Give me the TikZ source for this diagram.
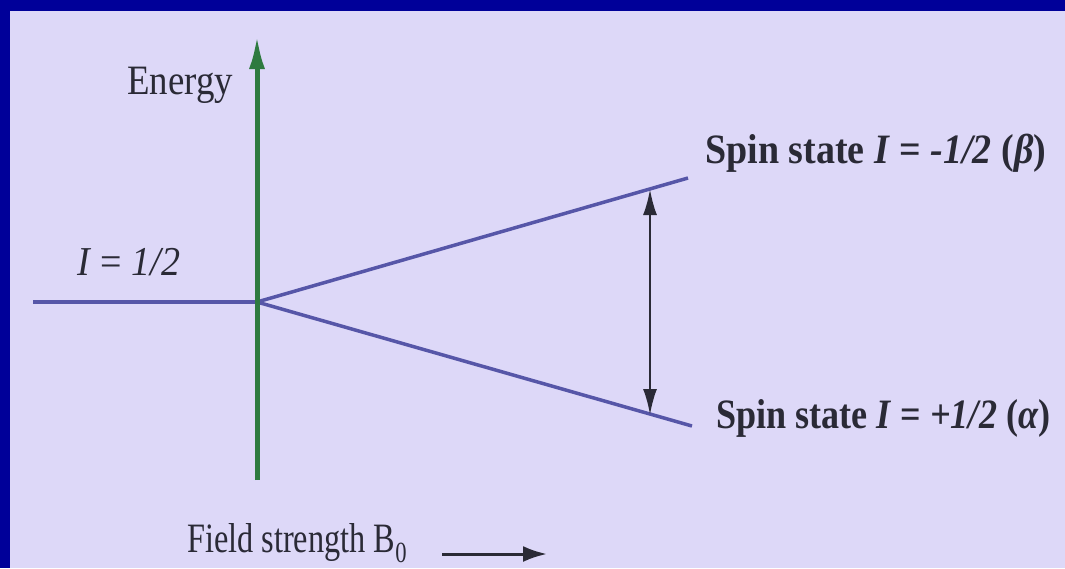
\documentclass[tikz,border=0pt]{standalone}
\usepackage{fontspec}
\setmainfont{Liberation Serif}
\usetikzlibrary{arrows.meta}
\definecolor{framecol}{HTML}{000099}
\definecolor{bgcol}{HTML}{DDD8F8}
\definecolor{levelcol}{HTML}{5656A8}
\definecolor{axiscol}{HTML}{2E7A40}
\definecolor{inkcol}{HTML}{2A2A36}
\tikzset{
  lbl/.style={inner sep=0pt, anchor=base west, text=inkcol, font=\fontsize{38}{40}\selectfont},
  spinlbl/.style={lbl, font=\fontsize{38}{40}\selectfont\bfseries},
  level/.style={draw=levelcol, line width=3.5pt},
  axisarrow/.style={draw=axiscol, line width=5pt, -{Latex[length=34pt,width=16pt]}},
  gaparrow/.style={draw=inkcol, line width=2.5pt, {Latex[length=26pt,width=14pt]}-{Latex[length=26pt,width=14pt]}},
  fieldarrow/.style={draw=inkcol, line width=3pt, -{Latex[length=24pt,width=16pt]}}
}
\begin{document}
\begin{tikzpicture}[x=1pt,y=-1pt]
\useasboundingbox (0,0) rectangle (1065,568);
\fill[framecol] (0,0) rectangle (1065,568);
\fill[bgcol] (10,11) rectangle (1065,568);
% coordinates
\coordinate (ax0) at (257,480);
\coordinate (ax1) at (257,35);
\coordinate (start) at (33,302);
\coordinate (split) at (257,302);
\coordinate (upend) at (688,178);
\coordinate (loend) at (692,426);
\coordinate (gaptop) at (650,189);
\coordinate (gapbot) at (650,415);
\coordinate (fa0) at (442,554);
\coordinate (fa1) at (547,554);
% levels
\draw[level] (start) -- (split);
\draw[level] (split) -- (upend);
\draw[level] (split) -- (loend);
% axis
\draw[axisarrow] (ax0) -- (ax1);
% gap arrow
\draw[gaparrow] (gaptop) -- (gapbot);
% field arrow
\draw[fieldarrow] (fa0) -- (fa1);
% labels
\node[lbl, xscale=0.97, yscale=1.1] (energy) at (127,94) {Energy};
\node[lbl, yscale=1.08] (ihalf) at (77,275) {\textit{I} = \textit{1/2}};
\node[spinlbl, xscale=1.0, yscale=1.1] (beta) at (705,163) {Spin state \textit{I} = \textit{-1/2} (\textit{β})};
\node[spinlbl, xscale=0.95, yscale=1.1] (alpha) at (716,428) {Spin state \textit{I} = \textit{+1/2} (\textit{α})};
\node[lbl, xscale=0.85, yscale=1.1] (field) at (187,552) {Field strength B\textsubscript{0}};
\end{tikzpicture}
\end{document}
